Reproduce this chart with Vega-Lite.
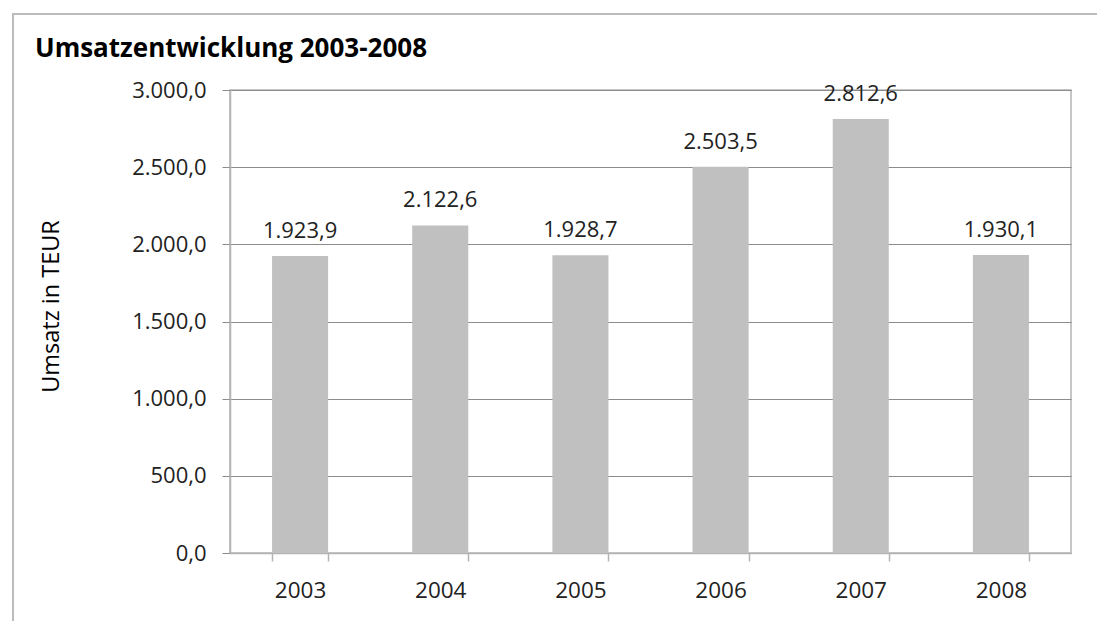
{
  "$schema": "https://vega.github.io/schema/vega-lite/v6.json",
  "autosize": "none",
  "width": 841,
  "height": 463,
  "padding": {"left": 230, "top": 90, "right": 26, "bottom": 68},
  "background": "white",
  "config": {
    "locale": {"number": {"decimal": ",", "thousands": ".", "grouping": [3], "currency": ["", " €"]}},
    "font": "Open Sans",
    "view": {"stroke": "#b4b4b4", "strokeWidth": 1.5},
    "legend": {"strokeWidth": 2}
  },
  "title": {
    "text": "Umsatzentwicklung 2003-2008",
    "anchor": "start",
    "frame": "group",
    "dx": -195,
    "offset": -70,
    "baseline": "alphabetic",
    "fontSize": 26,
    "fontWeight": "bold",
    "color": "#000000",
    "font": "Open Sans"
  },
  "data": {
    "values": [
      {"Jahr": "2003", "Umsatz": 1923.9},
      {"Jahr": "2004", "Umsatz": 2122.6},
      {"Jahr": "2005", "Umsatz": 1928.7},
      {"Jahr": "2006", "Umsatz": 2503.5},
      {"Jahr": "2007", "Umsatz": 2812.6},
      {"Jahr": "2008", "Umsatz": 1930.1}
    ]
  },
  "encoding": {
    "x": {
      "field": "Jahr",
      "type": "nominal",
      "scale": {"paddingInner": 0.6, "paddingOuter": 0.3},
      "axis": {
        "title": null,
        "labelAngle": 0,
        "labelFontSize": 22.5,
        "labelColor": "#222222",
        "labelPadding": 18,
        "tickBand": "extent",
        "tickSize": 8,
        "tickColor": "#b4b4b4",
        "tickWidth": 1.5,
        "domainColor": "#b4b4b4",
        "domainWidth": 1.5,
        "grid": false
      }
    },
    "y": {
      "field": "Umsatz",
      "type": "quantitative",
      "scale": {"domain": [0, 3000], "nice": false},
      "axis": {
        "title": "Umsatz in TEUR",
        "titleFontSize": 23.5,
        "titleFontWeight": "normal",
        "titleColor": "#000000",
        "titleAngle": -90,
        "titleX": -172,
        "titleY": 216,
        "titleAlign": "center",
        "titleBaseline": "alphabetic",
        "values": [0, 500, 1000, 1500, 2000, 2500, 3000],
        "format": ",.1f",
        "labelFontSize": 22,
        "labelColor": "#222222",
        "labelPadding": 16,
        "tickSize": 8,
        "tickColor": "#8c8c8c",
        "gridColor": "#8c8c8c",
        "gridWidth": 1,
        "domainColor": "#b4b4b4",
        "domainWidth": 1.5
      }
    }
  },
  "layer": [
    {
      "mark": {"type": "bar"},
      "encoding": {
        "color": {
          "datum": "Umsatz",
          "type": "nominal",
          "scale": {"range": ["#c0c0c0"]},
          "legend": {
            "orient": "none",
            "legendX": -217,
            "legendY": -76,
            "title": null,
            "padding": 700,
            "strokeColor": "#bcbcbc",
            "symbolOpacity": 0,
            "labelOpacity": 0,
            "labelExpr": "''"
          }
        }
      }
    },
    {
      "mark": {"type": "text", "baseline": "alphabetic", "dy": -18, "fontSize": 22, "color": "#222222"},
      "encoding": {"text": {"field": "Umsatz", "type": "quantitative", "format": ",.1f"}}
    }
  ]
}
